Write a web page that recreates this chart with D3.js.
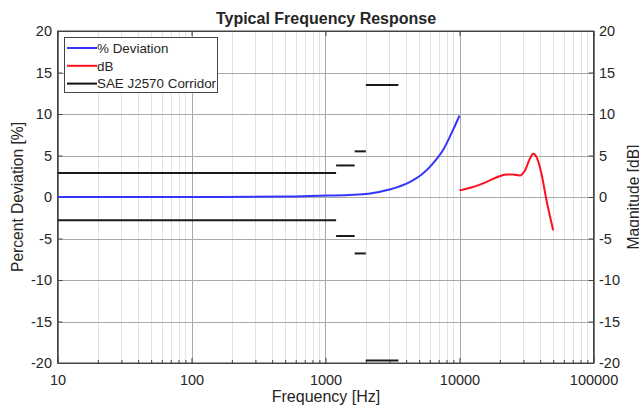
<!DOCTYPE html>
<meta charset="utf-8">
<title>Typical Frequency Response</title>
<style>

body {
  margin: 0;
  background: #fff;
}

text {
  font-family: "Liberation Sans", Arial, sans-serif;
  fill: #262626;
}

</style>
<body>
<script src="https://cdn.jsdelivr.net/npm/d3@7/dist/d3.min.js"></script>
<script>

// % deviation curve (left axis)
var devFreq = [10, 100, 500, 900, 1500, 2100, 3000, 4250, 5300, 6300, 7500, 8900, 10000],
    devValue = [0, 0, 0.05, 0.15, 0.25, 0.4, 0.9, 1.8, 2.8, 4.0, 5.6, 8.0, 9.8];

// dB curve (right axis)
var dbFreq = [10000, 12600, 15800, 19900, 22400, 25100, 28200, 30800, 33500, 35500, 37600, 40900, 44600, 50000],
    dbValue = [0.8, 1.2, 1.8, 2.5, 2.7, 2.7, 2.6, 3.2, 4.6, 5.2, 4.8, 2.8, -0.4, -4.0];

// SAE J2570 corridor segments
var corStart = [10, 1200, 1650, 2000],
    corEnd = [1200, 1650, 2000, 3500],
    corUpper = [2.9, 3.8, 5.5, 13.5],
    corLower = [-2.8, -4.7, -6.8, -19.7];

var xTicks = [10, 100, 1000, 10000, 100000],
    yTicks = [-20, -15, -10, -5, 0, 5, 10, 15, 20];

var legendLabels = ["% Deviation", "dB", "SAE J2570 Corridor"],
    legendColors = ["#3535ff", "#ff1020", "#111"];

var w = 639,
    h = 409,
    x0 = 57.5,
    x1 = 593.5,
    y0 = 31,
    y1 = 363;

var svg = d3.select("body").append("svg")
    .attr("width", w)
    .attr("height", h);

var x = d3.scaleLog().domain([10, 100000]).range([x0, x1]),
    y = d3.scaleLinear().domain([-20, 20]).range([y1, y0]),
    y2 = d3.scaleLinear().domain([-20, 20]).range([y1, y0]);

// plain hyphen minus, like matlab
function num(d) { return String(d); }

// minor vertical grid
var minor = [];
for (var d = 10; d < 100000; d *= 10)
  for (var k = 2; k < 10; k++) minor.push(d * k);

svg.append("g").selectAll("line")
    .data(minor)
  .enter().append("line")
    .attr("x1", function(d) { return Math.round(x(d)) + .5; })
    .attr("x2", function(d) { return Math.round(x(d)) + .5; })
    .attr("y1", y0)
    .attr("y2", y1)
    .attr("stroke", "#e2e2e2");

svg.append("g").selectAll("line")
    .data(xTicks)
  .enter().append("line")
    .attr("x1", function(d) { return Math.round(x(d)) + .5; })
    .attr("x2", function(d) { return Math.round(x(d)) + .5; })
    .attr("y1", y0)
    .attr("y2", y1)
    .attr("stroke", "#a9a9a9");

svg.append("g").selectAll("line")
    .data(yTicks)
  .enter().append("line")
    .attr("x1", x0)
    .attr("x2", x1)
    .attr("y1", function(d) { return Math.round(y(d)) + .5; })
    .attr("y2", function(d) { return Math.round(y(d)) + .5; })
    .attr("stroke", "#a9a9a9");

// axes (ticks inward, like matlab)
svg.append("g")
    .attr("transform", "translate(0," + y1 + ")")
    .call(d3.axisBottom(x).tickValues(xTicks).tickFormat(num).tickSizeInner(-5).tickSizeOuter(0).tickPadding(11.5))
    .call(style);

svg.append("g")
    .attr("transform", "translate(0," + y1 + ")")
    .call(d3.axisBottom(x).tickValues(minor).tickFormat("").tickSizeInner(-3).tickSizeOuter(0))
    .call(style);

svg.append("g")
    .attr("transform", "translate(0," + y0 + ")")
    .call(d3.axisTop(x).tickValues(xTicks).tickFormat("").tickSizeInner(-5).tickSizeOuter(0))
    .call(style);

svg.append("g")
    .attr("transform", "translate(" + x0 + ",0)")
    .call(d3.axisLeft(y).tickValues(yTicks).tickFormat(num).tickSizeInner(-5).tickSizeOuter(0).tickPadding(5.5))
    .call(style);

svg.append("g")
    .attr("transform", "translate(" + x1 + ",0)")
    .call(d3.axisRight(y2).tickValues(yTicks).tickFormat(num).tickSizeInner(-5).tickSizeOuter(0).tickPadding(5.5))
    .call(style);

function style(g) {
  g.select(".domain").attr("stroke", "#444");
  g.selectAll(".tick line").attr("stroke", "#444");
  g.selectAll(".tick text")
      .attr("font-size", 14.5)
      .attr("font-family", "Liberation Sans, Arial, sans-serif")
      .attr("fill", "#262626");
}

svg.append("rect")
    .attr("x", x0)
    .attr("y", y0)
    .attr("width", x1 - x0)
    .attr("height", y1 - y0)
    .attr("fill", "none")
    .attr("stroke", "#444");

// corridor
var g = svg.append("g").attr("stroke", "#1a1a1a").attr("stroke-width", 2);
[corUpper, corLower].forEach(function(vals) {
  g.selectAll(null)
      .data(d3.range(corStart.length))
    .enter().append("line")
      .attr("x1", function(i) { return x(corStart[i]); })
      .attr("x2", function(i) { return x(corEnd[i]); })
      .attr("y1", function(i) { return y(vals[i]); })
      .attr("y2", function(i) { return y(vals[i]); });
});

var devLine = d3.line()
    .x(function(i) { return x(devFreq[i]); })
    .y(function(i) { return y(devValue[i]); })
    .curve(d3.curveMonotoneX);

svg.append("path")
    .attr("d", devLine(d3.range(devFreq.length)))
    .attr("fill", "none")
    .attr("stroke", legendColors[0])
    .attr("stroke-width", 2);

var dbLine = d3.line()
    .x(function(i) { return x(dbFreq[i]); })
    .y(function(i) { return y2(dbValue[i]); })
    .curve(d3.curveMonotoneX);

svg.append("path")
    .attr("d", dbLine(d3.range(dbFreq.length)))
    .attr("fill", "none")
    .attr("stroke", legendColors[1])
    .attr("stroke-width", 2);

// legend
var lg = svg.append("g");
lg.append("rect")
    .attr("x", 64.5)
    .attr("y", 37.5)
    .attr("width", 153)
    .attr("height", 55)
    .attr("fill", "#fff")
    .attr("stroke", "#444");

var row = lg.selectAll(".row")
    .data(legendLabels)
  .enter().append("g")
    .attr("transform", function(d, i) { return "translate(67," + (48 + i * 17.8) + ")"; });

row.append("line")
    .attr("x1", 0)
    .attr("x2", 30)
    .attr("stroke", function(d, i) { return legendColors[i]; })
    .attr("stroke-width", 2);

row.append("text")
    .attr("x", 30)
    .attr("dy", "0.35em")
    .attr("font-size", 13.4)
    .text(function(d) { return d; });

// titles
svg.append("text")
    .attr("x", 326)
    .attr("y", 24)
    .attr("text-anchor", "middle")
    .attr("font-size", 16)
    .attr("font-weight", "bold")
    .text("Typical Frequency Response");

svg.append("text")
    .attr("x", 326)
    .attr("y", 402)
    .attr("text-anchor", "middle")
    .attr("font-size", 16)
    .text("Frequency [Hz]");

svg.append("text")
    .attr("transform", "translate(23,197)rotate(-90)")
    .attr("text-anchor", "middle")
    .attr("font-size", 15.6)
    .text("Percent Deviation [%]");

svg.append("text")
    .attr("transform", "translate(639,197)rotate(-90)")
    .attr("text-anchor", "middle")
    .attr("font-size", 15.6)
    .text("Magnitude [dB]");

</script>
